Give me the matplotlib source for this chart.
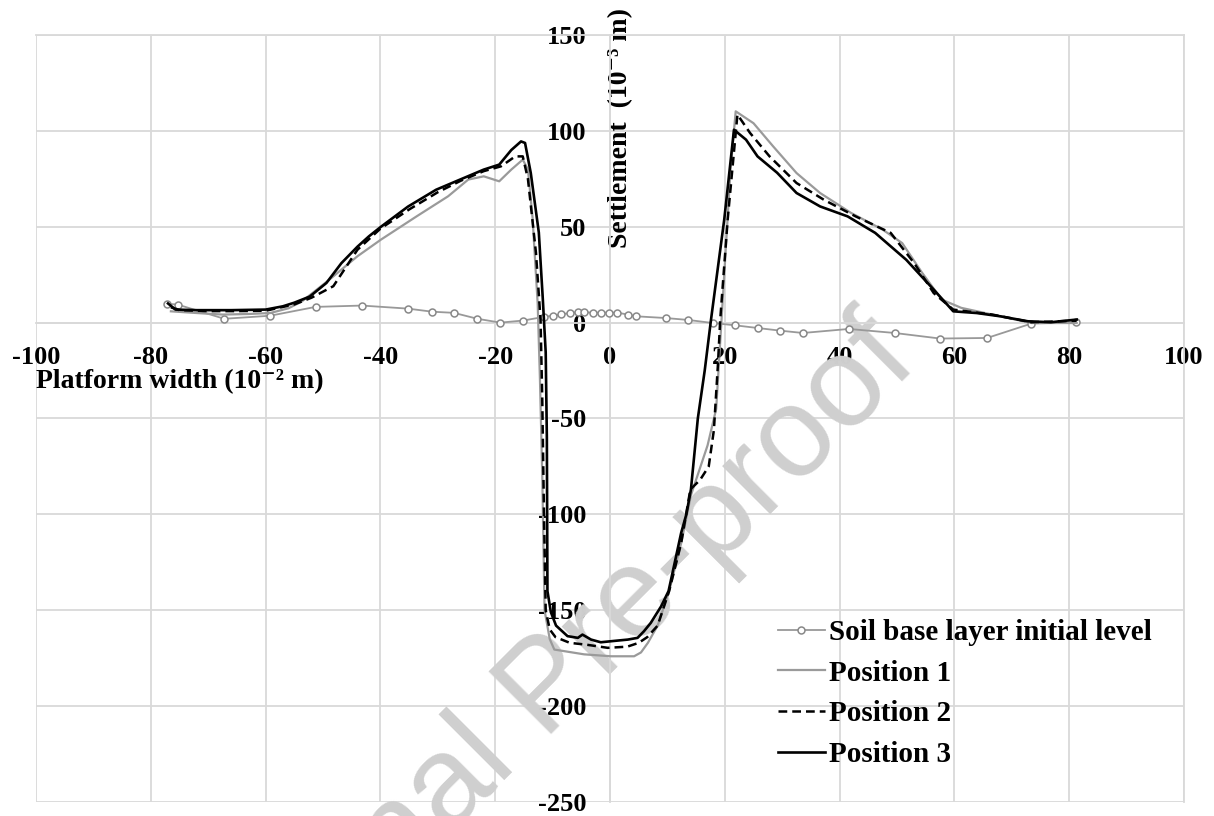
import matplotlib
matplotlib.use("Agg")
import matplotlib.pyplot as plt

# Soil base layer initial level (markers)
soil_x = [-77.2, -75.3, -67.2, -59.2, -51.3, -43.2, -35.2, -31.0, -27.2, -23.1, -19.1, -15.1,
          -11.5, -10.0, -8.5, -7.0, -5.6, -4.5, -3.0, -1.6, -0.2, 1.3, 3.1, 4.5, 9.7, 13.6,
          17.9, 21.8, 25.7, 29.7, 33.6, 41.6, 49.6, 57.5, 65.7, 73.4, 81.2]
soil_y = [9.9, 9.4, 2.0, 3.6, 8.2, 8.9, 7.3, 5.7, 5.1, 2.0, 0.0, 1.1,
          3.0, 3.6, 4.3, 5.0, 5.4, 5.4, 5.2, 5.2, 5.2, 5.2, 4.2, 3.3, 2.4, 1.4,
          -0.2, -1.4, -2.8, -4.2, -5.4, -3.3, -5.4, -8.3, -8.0, -0.5, 0.2]

# Position 1 (grey)
p1_x = [-76.5, -72, -67.5, -63, -59.2, -56, -53.7, -48.9, -44, -39.9, -33.7, -28.2, -24.7, -22,
        -19.3, -17.2, -15.2, -14.3, -13.5, -12.6, -12.2, -11.8, -11.4, -10.5, -9.7, -4.5, 0.2,
        4.2, 5.4, 6.6, 8.3, 10.3, 12.4, 14.1, 17.0, 18.5, 19.2, 20.2, 21.0, 21.9, 25, 28.4,
        32.5, 36.6, 42, 47.5, 50.9, 54.4, 57.8, 61.2, 66.6, 73.4, 81.3]
p1_y = [5.9, 5.0, 4.2, 4.5, 5.0, 7.5, 11.0, 22.4, 34.6, 43.3, 55.4, 65.9, 74.6, 76.3,
        73.7, 79.8, 85.0, 80.0, 55.0, 10.0, -30.0, -80.0, -150.0, -165.0, -170.5, -173.0, -174.0,
        -174.0, -172.0, -167.0, -158.0, -140.0, -115.0, -90.0, -64.0, -45.0, -10.0, 40.0, 80.0, 110.2,
        104.0, 92.0, 78.0, 67.6, 57.2, 48.5, 41.5, 25.9, 12.0, 7.7, 4.2, -0.2, -0.2]

# Position 2 (dashed)
p2_x = [-76.5, -75, -70, -65, -60, -55, -52, -48.2, -44, -40, -35, -30, -26, -22, -19, -16.5,
        -15.2, -14.3, -12.9, -12.1, -11.8, -11.5, -11.2, -10.5, -9.5, -7, -4, -0.4, 3, 5, 6.5,
        8.3, 10.3, 12.4, 14.0, 15.7, 17.2, 18.1, 18.8, 19.2, 20.5, 22.2, 24.4, 27.8, 32.5, 37.3,
        42.8, 48.9, 53, 56.4, 59.8, 66.6, 73.4, 81.3]
p2_y = [8.0, 6.5, 6.0, 6.0, 6.2, 9.5, 13.0, 19.0, 38.0, 49.0, 59.0, 68.0, 74.0, 79.0, 81.5, 86.7,
        86.7, 75.0, 36.5, 1.5, -40.0, -100.0, -150.0, -160.0, -164.0, -167.0, -168.0, -169.6, -169.0,
        -167.0, -164.0, -158.0, -140.0, -115.0, -87.0, -82.0, -75.0, -56.0, -22.0, 1.5, 53.7, 108.5,
        98.9, 86.7, 72.8, 64.0, 55.4, 46.8, 31.0, 15.4, 6.8, 4.2, 0.2, 1.0]

# Position 3 (black)
p3_x = [-77, -75.7, -72, -66, -60, -57, -55, -52.3, -49.4, -46.8, -44, -42, -39.9, -35.2, -30.3,
        -26.2, -22, -19.3, -17.2, -15.5, -14.8, -13.8, -12.4, -11.7, -11.2, -11.0, -10.9, -10.3,
        -9.4, -7.4, -5.6, -4.8, -3.3, -1.6, 0.7, 3.1, 4.8, 5.9, 7.1, 8.9, 10.2, 12.4, 13.3, 14.1,
        15.3, 16.5, 17.6, 19.9, 21.6, 23.7, 25.7, 29.1, 32.5, 36.6, 41.4, 46.2, 51.6, 56.4, 59.8,
        63.9, 68, 72.8, 76.8, 81.3]
p3_y = [10.0, 6.8, 6.5, 6.5, 6.8, 8.5, 10.4, 13.6, 20.7, 31.0, 39.6, 45.0, 50.0, 60.5, 69.3,
        74.5, 79.8, 82.4, 90.0, 94.5, 93.7, 78.0, 47.0, 12.0, -15.6, -60.0, -140.0, -151.0,
        -158.0, -163.5, -164.4, -162.7, -165.3, -166.7, -166.0, -165.3, -164.4, -161.0, -156.6, -148.0, -140.0, -109.6, -100.0, -87.0,
        -50.0, -25.0, 1.6, 53.7, 100.6, 95.4, 86.7, 78.2, 67.6, 60.6, 55.4, 46.8, 32.8, 17.2, 5.9,
        5.0, 3.3, 0.7, 0.2, 1.6]

x_ticks = [-100, -80, -60, -40, -20, 0, 20, 40, 60, 80, 100]
y_ticks = [-250, -200, -150, -100, -50, 0, 50, 100, 150]

GRID = "#d9d9d9"

plt.rcParams['font.family'] = ['Liberation Serif', 'DejaVu Serif']
plt.rcParams['font.weight'] = 'bold'
plt.rcParams['axes.unicode_minus'] = False

fig = plt.figure(figsize=(12.14, 8.16), dpi=100)
ax = fig.add_axes([36 / 1214, 1 - 802 / 816, 1148 / 1214, 767 / 816])

ax.set_xlim(-100, 100)
ax.set_ylim(-250, 150)
ax.set_xticks(x_ticks)
ax.set_yticks(y_ticks)
ax.grid(True, color=GRID, linewidth=1.3, zorder=0)
ax.set_axisbelow(True)

ax.spines['left'].set_position('zero')
ax.spines['bottom'].set_position('zero')
for s in ax.spines.values():
    s.set_color(GRID)
    s.set_linewidth(1.3)

ax.tick_params(axis='both', length=0, labelsize=19)
ax.tick_params(axis='x', pad=17)
ax.tick_params(axis='y', pad=17)
for lab in ax.get_xticklabels() + ax.get_yticklabels():
    lab.set_fontweight('bold')

ax.plot(soil_x, soil_y, color='#999999', linewidth=1.3, marker='o', markersize=5,
        markerfacecolor='white', markeredgecolor='#888888', markeredgewidth=1.1,
        label='Soil base layer initial level', zorder=3)
ax.plot(p1_x, p1_y, color='#9a9a9a', linewidth=1.6, label='Position 1', zorder=4)
ax.plot(p2_x, p2_y, color='black', linewidth=1.8, dashes=(3.5, 2), label='Position 2', zorder=5)
ax.plot(p3_x, p3_y, color='black', linewidth=1.9, label='Position 3', zorder=6)

ax.set_xlabel('Platform width (10⁻² m)', fontsize=20, fontweight='bold',
              loc='left', labelpad=0)
ax.set_ylabel('Settlement  (10⁻³ m)', fontsize=20, fontweight='bold', va='center')
ax.yaxis.set_label_coords((621 - 36) / 1148, (802 - 128) / 767)

leg = ax.legend(loc='upper left', bbox_to_anchor=(778 / 1214, 1 - 619 / 816),
                bbox_transform=fig.transFigure, frameon=False, fontsize=21,
                handlelength=1.6, handletextpad=0.15, labelspacing=0.47,
                borderpad=0, borderaxespad=0)
for t in leg.get_texts():
    t.set_fontweight('bold')

# watermark
ax.text(548 / 1214, 1 - 690 / 816, 'Journal Pre-proof', transform=fig.transFigure,
        fontsize=92, family='Liberation Sans', fontweight='normal', color='#cfcfcf',
        rotation=45, rotation_mode='anchor', ha='center', va='center',
        clip_on=False, zorder=2)

fig.savefig('out.png', dpi=100, facecolor='white')
